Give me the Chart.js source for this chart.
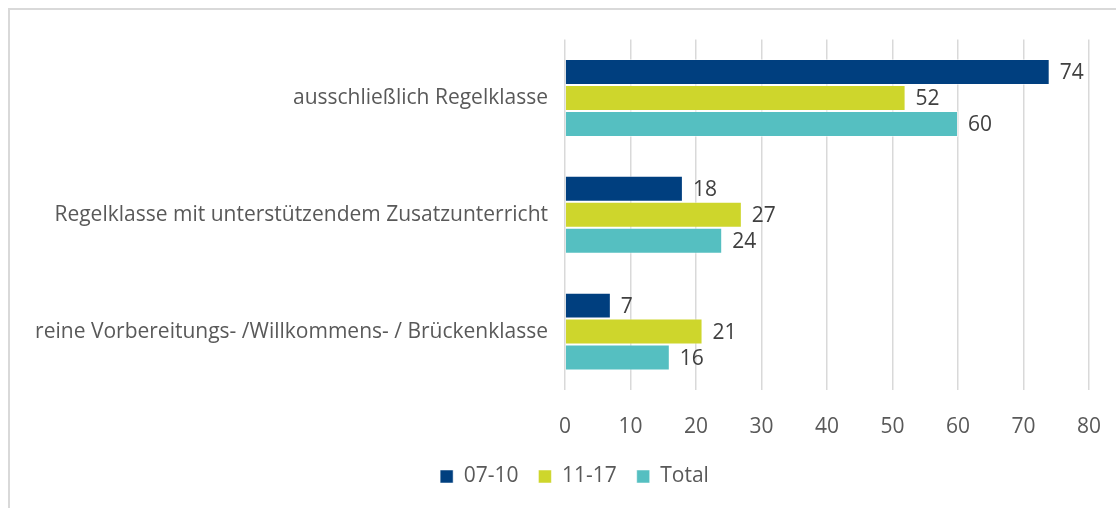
<!DOCTYPE html>
<html>
<head>
<meta charset="utf-8">
<script src="https://cdn.jsdelivr.net/npm/chart.js@4.4.1/dist/chart.umd.min.js"></script>
<style>
  html, body { margin: 0; padding: 0; background: #fff; }
  #box {
    position: absolute; left: 8px; top: 8px;
    width: 1108px; height: 500px;
    border-top: 2px solid #d9d9d9; border-left: 2px solid #d9d9d9;
  }
  #chart { display: block; }
</style>
</head>
<body>
<div id="box"><canvas id="chart" width="1106" height="498"></canvas></div>
<script>
const categories = [
  "ausschließlich Regelklasse",
  "Regelklasse mit unterstützendem Zusatzunterricht",
  "reine Vorbereitungs- /Willkommens- / Brückenklasse"
];
const seriesNames = ["07-10", "11-17", "Total"];
const values0710 = [74, 18, 7];
const values1117 = [52, 27, 21];
const valuesTotal = [60, 24, 16];
const xTicks = [0, 10, 20, 30, 40, 50, 60, 70, 80];

const colors = ["#003f7f", "#ced62c", "#55bfc1"];
const fontFamily = "'Open Sans', sans-serif";
const fontSize = 21;

// value labels right of every bar
const barLabels = {
  id: "barLabels",
  afterDatasetsDraw(chart) {
    const ctx = chart.ctx;
    ctx.save();
    ctx.font = fontSize + "px " + fontFamily;
    ctx.fillStyle = "#404040";
    ctx.textAlign = "left";
    ctx.textBaseline = "middle";
    chart.data.datasets.forEach((ds, i) => {
      chart.getDatasetMeta(i).data.forEach((bar, j) => {
        ctx.fillText(ds.data[j], bar.x + 10, bar.y + 1);
      });
    });
    ctx.restore();
  }
};

// legend sits centred under the whole figure, a bit right of the plot centre
const legendShift = {
  id: "legendShift",
  afterLayout(chart) {
    chart.legend.left += 20;
    chart.legend.right += 20;
  }
};

const allSeries = [values0710, values1117, valuesTotal];

new Chart(document.getElementById("chart"), {
  type: "bar",
  data: {
    labels: categories,
    datasets: allSeries.map((vals, i) => ({
      label: seriesNames[i],
      data: vals,
      backgroundColor: colors[i],
      borderColor: "rgba(255,255,255,0.5)",
      borderWidth: 1,
      barPercentage: 1,
      categoryPercentage: 0.667
    }))
  },
  options: {
    indexAxis: "y",
    responsive: false,
    animation: false,
    layout: { padding: { left: 10, right: 27, top: 29, bottom: 11 } },
    scales: {
      x: {
        min: 0,
        max: 80,
        afterBuildTicks(scale) { scale.ticks = xTicks.map(v => ({ value: v })); },
        afterFit(scale) {
          scale.height = 56;
          scale.paddingLeft = 0;
          scale.paddingRight = 0;
        },
        grid: { color: "#d9d9d9", lineWidth: 1.5, drawTicks: false },
        border: { display: false },
        ticks: { color: "#595959", padding: 24, font: { family: fontFamily, size: fontSize } }
      },
      y: {
        afterFit(scale) { scale.width = 545; },
        grid: { display: false, drawTicks: false },
        border: { display: false },
        ticks: { color: "#595959", padding: 17, font: { family: fontFamily, size: fontSize } }
      }
    },
    plugins: {
      legend: {
        position: "bottom",
        labels: {
          boxWidth: 13,
          boxHeight: 13,
          padding: 20,
          color: "#595959",
          font: { family: fontFamily, size: fontSize }
        }
      },
      tooltip: { enabled: false }
    }
  },
  plugins: [barLabels, legendShift]
});
</script>
</body>
</html>
